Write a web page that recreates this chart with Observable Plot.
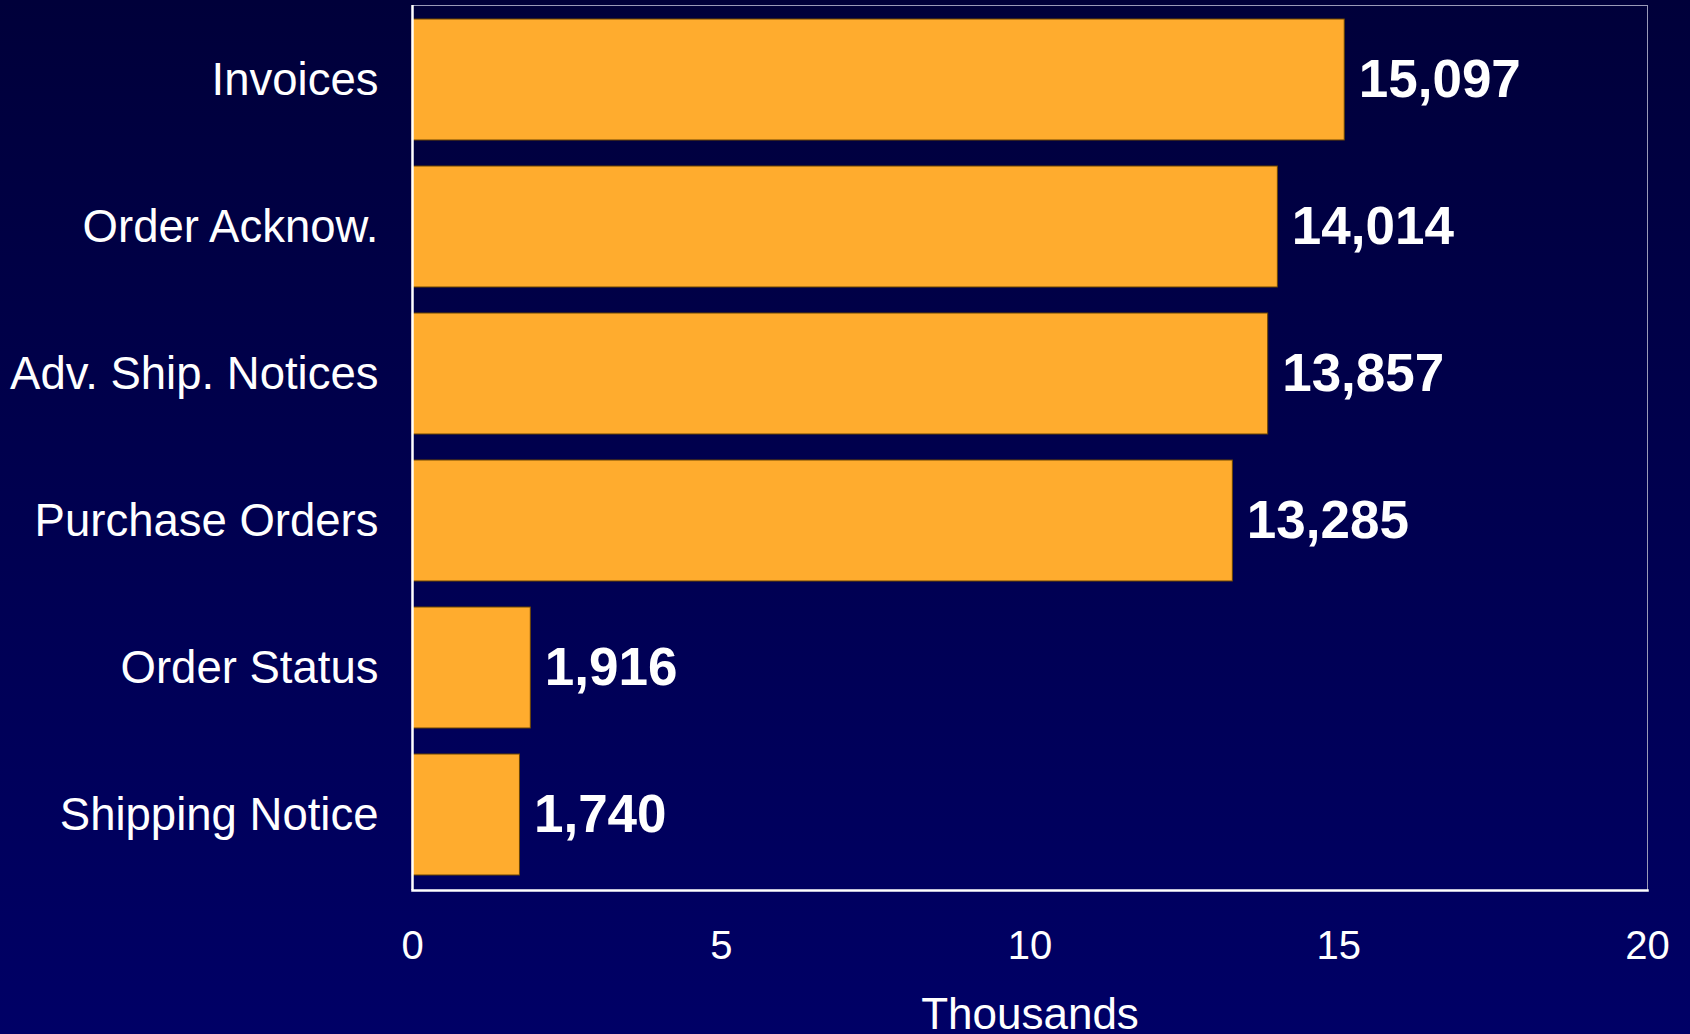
<!DOCTYPE html>
<html>
<head>
<meta charset="utf-8">
<script src="https://cdn.jsdelivr.net/npm/d3@7"></script>
<script src="https://cdn.jsdelivr.net/npm/@observablehq/plot@0.6"></script>
<style>
  html, body { margin: 0; padding: 0; }
  body {
    width: 1690px; height: 1034px; overflow: hidden;
    background: linear-gradient(to bottom, #00003a 0%, #000050 50%, #000066 100%);
    font-family: "Liberation Sans", Arial, sans-serif;
  }
  #chart svg { display: block; background: transparent; }
</style>
</head>
<body>
<div id="chart"></div>
<script>
const categories = ["Invoices", "Order Acknow.", "Adv. Ship. Notices", "Purchase Orders", "Order Status", "Shipping Notice"];
const values = [15097, 14014, 13857, 13285, 1916, 1740];
const xTicks = [0, 5, 10, 15, 20];
const axisLabel = "Thousands";

const data = categories.map((c, i) => ({category: c, value: values[i]}));
const fmt = d3.format(",");

const chart = Plot.plot({
  width: 1690,
  height: 1034,
  marginLeft: 412,
  marginRight: 43,
  marginTop: 5,
  marginBottom: 144,
  style: {background: "transparent", fontFamily: "'Liberation Sans', Arial, sans-serif", color: "white"},
  x: {domain: [0, 20], ticks: xTicks},
  y: {domain: categories, paddingInner: 0.176, paddingOuter: 0.09},
  marks: [
    Plot.frame({stroke: "#9a9ab8", strokeWidth: 1}),
    Plot.barX(data, {y: "category", x: d => d.value / 1000, fill: "#ffac2e", stroke: "#6b4500", strokeWidth: 1}),
    Plot.text(data, {
      y: "category", x: d => d.value / 1000, text: d => fmt(d.value),
      textAnchor: "start", dx: 14, fill: "white", fontWeight: "bold", fontSize: 53
    }),
    Plot.ruleX([0], {stroke: "white", strokeWidth: 2.5}),
    Plot.frame({anchor: "bottom", stroke: "white", strokeWidth: 2.5}),
    Plot.axisY({tickSize: 0, tickPadding: 34, fontSize: 45.5, fill: "white", label: null}),
    Plot.axisX({tickSize: 0, tickPadding: 40, fontSize: 40, fill: "white", label: null, ticks: xTicks, tickFormat: d => String(d)}),
    Plot.text([axisLabel], {frameAnchor: "bottom", dy: 138, text: d => d, fill: "white", fontSize: 44, lineAnchor: "bottom"})
  ]
});
document.getElementById("chart").appendChild(chart);
</script>
</body>
</html>
